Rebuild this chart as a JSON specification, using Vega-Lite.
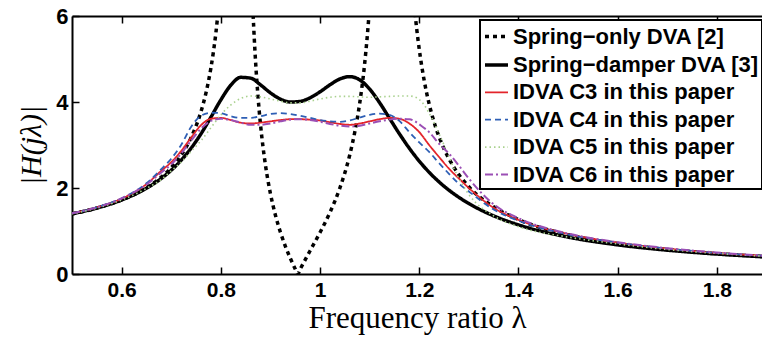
{
  "$schema": "https://vega.github.io/schema/vega-lite/v6.json",
  "width": 690,
  "height": 258,
  "autosize": {"type": "none"},
  "padding": {"left": 72, "top": 16, "right": 0, "bottom": 63},
  "background": "white",
  "config": {"view": {"stroke": null}},
  "data": {"values": [
    {"s":"Spring−only DVA [2]","x":0.5,"y":1.397},{"s":"Spring−only DVA [2]","x":0.55,"y":1.533},{"s":"Spring−only DVA [2]","x":0.6,"y":1.722},{"s":"Spring−only DVA [2]","x":0.65,"y":2.005},{"s":"Spring−only DVA [2]","x":0.7,"y":2.475},{"s":"Spring−only DVA [2]","x":0.72,"y":2.766},{"s":"Spring−only DVA [2]","x":0.74,"y":3.171},{"s":"Spring−only DVA [2]","x":0.76,"y":3.776},{"s":"Spring−only DVA [2]","x":0.77,"y":4.208},{"s":"Spring−only DVA [2]","x":0.78,"y":4.789},{"s":"Spring−only DVA [2]","x":0.785,"y":5.16},{"s":"Spring−only DVA [2]","x":0.79,"y":5.6},{"s":"Spring−only DVA [2]","x":0.795,"y":6.17},{"s":"Spring−only DVA [2]","x":0.8,"y":6.9},{"s":"Spring−only DVA [2]","x":0.81,"y":9.09},{"s":"Spring−only DVA [2]","x":0.86,"y":7.6},{"s":"Spring−only DVA [2]","x":0.865,"y":6.07},{"s":"Spring−only DVA [2]","x":0.87,"y":4.95},{"s":"Spring−only DVA [2]","x":0.875,"y":4.124},{"s":"Spring−only DVA [2]","x":0.88,"y":3.476},{"s":"Spring−only DVA [2]","x":0.885,"y":2.96},{"s":"Spring−only DVA [2]","x":0.89,"y":2.534},{"s":"Spring−only DVA [2]","x":0.9,"y":1.872},{"s":"Spring−only DVA [2]","x":0.91,"y":1.373},{"s":"Spring−only DVA [2]","x":0.92,"y":0.978},{"s":"Spring−only DVA [2]","x":0.93,"y":0.65},{"s":"Spring−only DVA [2]","x":0.94,"y":0.368},{"s":"Spring−only DVA [2]","x":0.95,"y":0.117},{"s":"Spring−only DVA [2]","x":0.955,"y":0},{"s":"Spring−only DVA [2]","x":0.96,"y":0.113},{"s":"Spring−only DVA [2]","x":0.98,"y":0.541},{"s":"Spring−only DVA [2]","x":1.0,"y":0.965},{"s":"Spring−only DVA [2]","x":1.02,"y":1.431},{"s":"Spring−only DVA [2]","x":1.04,"y":2.0},{"s":"Spring−only DVA [2]","x":1.06,"y":2.773},{"s":"Spring−only DVA [2]","x":1.07,"y":3.296},{"s":"Spring−only DVA [2]","x":1.08,"y":3.972},{"s":"Spring−only DVA [2]","x":1.09,"y":4.894},{"s":"Spring−only DVA [2]","x":1.1,"y":6.24},{"s":"Spring−only DVA [2]","x":1.105,"y":7.17},{"s":"Spring−only DVA [2]","x":1.11,"y":8.41},{"s":"Spring−only DVA [2]","x":1.18,"y":7.81},{"s":"Spring−only DVA [2]","x":1.185,"y":6.94},{"s":"Spring−only DVA [2]","x":1.19,"y":6.25},{"s":"Spring−only DVA [2]","x":1.195,"y":5.69},{"s":"Spring−only DVA [2]","x":1.2,"y":5.23},{"s":"Spring−only DVA [2]","x":1.21,"y":4.5},{"s":"Spring−only DVA [2]","x":1.22,"y":3.953},{"s":"Spring−only DVA [2]","x":1.23,"y":3.53},{"s":"Spring−only DVA [2]","x":1.25,"y":2.91},{"s":"Spring−only DVA [2]","x":1.27,"y":2.481},{"s":"Spring−only DVA [2]","x":1.3,"y":2.03},{"s":"Spring−only DVA [2]","x":1.35,"y":1.563},{"s":"Spring−only DVA [2]","x":1.4,"y":1.267},{"s":"Spring−only DVA [2]","x":1.5,"y":0.912},{"s":"Spring−only DVA [2]","x":1.6,"y":0.705},{"s":"Spring−only DVA [2]","x":1.7,"y":0.569},{"s":"Spring−only DVA [2]","x":1.8,"y":0.473},{"s":"Spring−only DVA [2]","x":1.9,"y":0.402},

    {"s":"Spring−damper DVA [3]","x":0.5,"y":1.399},{"s":"Spring−damper DVA [3]","x":0.55,"y":1.534},{"s":"Spring−damper DVA [3]","x":0.6,"y":1.722},{"s":"Spring−damper DVA [3]","x":0.65,"y":1.994},{"s":"Spring−damper DVA [3]","x":0.68,"y":2.222},{"s":"Spring−damper DVA [3]","x":0.7,"y":2.413},{"s":"Spring−damper DVA [3]","x":0.72,"y":2.644},{"s":"Spring−damper DVA [3]","x":0.74,"y":2.925},{"s":"Spring−damper DVA [3]","x":0.76,"y":3.26},{"s":"Spring−damper DVA [3]","x":0.78,"y":3.647},{"s":"Spring−damper DVA [3]","x":0.8,"y":4.048},{"s":"Spring−damper DVA [3]","x":0.82,"y":4.389},{"s":"Spring−damper DVA [3]","x":0.84,"y":4.573},{"s":"Spring−damper DVA [3]","x":0.86,"y":4.555},{"s":"Spring−damper DVA [3]","x":0.88,"y":4.399},{"s":"Spring−damper DVA [3]","x":0.9,"y":4.213},{"s":"Spring−damper DVA [3]","x":0.92,"y":4.068},{"s":"Spring−damper DVA [3]","x":0.94,"y":4.0},{"s":"Spring−damper DVA [3]","x":0.96,"y":4.014},{"s":"Spring−damper DVA [3]","x":0.98,"y":4.098},{"s":"Spring−damper DVA [3]","x":1.0,"y":4.237},{"s":"Spring−damper DVA [3]","x":1.02,"y":4.399},{"s":"Spring−damper DVA [3]","x":1.04,"y":4.536},{"s":"Spring−damper DVA [3]","x":1.06,"y":4.59},{"s":"Spring−damper DVA [3]","x":1.08,"y":4.515},{"s":"Spring−damper DVA [3]","x":1.1,"y":4.3},{"s":"Spring−damper DVA [3]","x":1.12,"y":3.986},{"s":"Spring−damper DVA [3]","x":1.14,"y":3.623},{"s":"Spring−damper DVA [3]","x":1.16,"y":3.261},{"s":"Spring−damper DVA [3]","x":1.18,"y":2.925},{"s":"Spring−damper DVA [3]","x":1.2,"y":2.626},{"s":"Spring−damper DVA [3]","x":1.22,"y":2.366},{"s":"Spring−damper DVA [3]","x":1.24,"y":2.142},{"s":"Spring−damper DVA [3]","x":1.26,"y":1.949},{"s":"Spring−damper DVA [3]","x":1.28,"y":1.783},{"s":"Spring−damper DVA [3]","x":1.3,"y":1.639},{"s":"Spring−damper DVA [3]","x":1.35,"y":1.353},{"s":"Spring−damper DVA [3]","x":1.4,"y":1.143},{"s":"Spring−damper DVA [3]","x":1.5,"y":0.859},{"s":"Spring−damper DVA [3]","x":1.6,"y":0.678},{"s":"Spring−damper DVA [3]","x":1.7,"y":0.554},{"s":"Spring−damper DVA [3]","x":1.8,"y":0.464},{"s":"Spring−damper DVA [3]","x":1.9,"y":0.396},

    {"s":"IDVA C3 in this paper","x":0.5,"y":1.41},{"s":"IDVA C3 in this paper","x":0.55,"y":1.55},{"s":"IDVA C3 in this paper","x":0.6,"y":1.75},{"s":"IDVA C3 in this paper","x":0.65,"y":2.09},{"s":"IDVA C3 in this paper","x":0.68,"y":2.4},{"s":"IDVA C3 in this paper","x":0.7,"y":2.6},{"s":"IDVA C3 in this paper","x":0.72,"y":2.86},{"s":"IDVA C3 in this paper","x":0.74,"y":3.17},{"s":"IDVA C3 in this paper","x":0.76,"y":3.46},{"s":"IDVA C3 in this paper","x":0.78,"y":3.61},{"s":"IDVA C3 in this paper","x":0.8,"y":3.63},{"s":"IDVA C3 in this paper","x":0.82,"y":3.58},{"s":"IDVA C3 in this paper","x":0.84,"y":3.52},{"s":"IDVA C3 in this paper","x":0.86,"y":3.5},{"s":"IDVA C3 in this paper","x":0.88,"y":3.52},{"s":"IDVA C3 in this paper","x":0.9,"y":3.55},{"s":"IDVA C3 in this paper","x":0.92,"y":3.58},{"s":"IDVA C3 in this paper","x":0.94,"y":3.6},{"s":"IDVA C3 in this paper","x":0.96,"y":3.6},{"s":"IDVA C3 in this paper","x":0.98,"y":3.59},{"s":"IDVA C3 in this paper","x":1.0,"y":3.57},{"s":"IDVA C3 in this paper","x":1.02,"y":3.53},{"s":"IDVA C3 in this paper","x":1.04,"y":3.49},{"s":"IDVA C3 in this paper","x":1.06,"y":3.47},{"s":"IDVA C3 in this paper","x":1.08,"y":3.5},{"s":"IDVA C3 in this paper","x":1.1,"y":3.55},{"s":"IDVA C3 in this paper","x":1.12,"y":3.6},{"s":"IDVA C3 in this paper","x":1.14,"y":3.63},{"s":"IDVA C3 in this paper","x":1.16,"y":3.61},{"s":"IDVA C3 in this paper","x":1.18,"y":3.5},{"s":"IDVA C3 in this paper","x":1.2,"y":3.3},{"s":"IDVA C3 in this paper","x":1.22,"y":3.0},{"s":"IDVA C3 in this paper","x":1.24,"y":2.72},{"s":"IDVA C3 in this paper","x":1.26,"y":2.45},{"s":"IDVA C3 in this paper","x":1.28,"y":2.22},{"s":"IDVA C3 in this paper","x":1.3,"y":2.0},{"s":"IDVA C3 in this paper","x":1.35,"y":1.54},{"s":"IDVA C3 in this paper","x":1.4,"y":1.26},{"s":"IDVA C3 in this paper","x":1.5,"y":0.93},{"s":"IDVA C3 in this paper","x":1.6,"y":0.73},{"s":"IDVA C3 in this paper","x":1.7,"y":0.59},{"s":"IDVA C3 in this paper","x":1.8,"y":0.49},{"s":"IDVA C3 in this paper","x":1.9,"y":0.42},

    {"s":"IDVA C4 in this paper","x":0.5,"y":1.41},{"s":"IDVA C4 in this paper","x":0.55,"y":1.55},{"s":"IDVA C4 in this paper","x":0.6,"y":1.76},{"s":"IDVA C4 in this paper","x":0.65,"y":2.11},{"s":"IDVA C4 in this paper","x":0.68,"y":2.44},{"s":"IDVA C4 in this paper","x":0.7,"y":2.68},{"s":"IDVA C4 in this paper","x":0.72,"y":3.0},{"s":"IDVA C4 in this paper","x":0.74,"y":3.42},{"s":"IDVA C4 in this paper","x":0.76,"y":3.68},{"s":"IDVA C4 in this paper","x":0.78,"y":3.75},{"s":"IDVA C4 in this paper","x":0.8,"y":3.74},{"s":"IDVA C4 in this paper","x":0.82,"y":3.67},{"s":"IDVA C4 in this paper","x":0.84,"y":3.63},{"s":"IDVA C4 in this paper","x":0.86,"y":3.63},{"s":"IDVA C4 in this paper","x":0.88,"y":3.67},{"s":"IDVA C4 in this paper","x":0.9,"y":3.72},{"s":"IDVA C4 in this paper","x":0.92,"y":3.74},{"s":"IDVA C4 in this paper","x":0.94,"y":3.72},{"s":"IDVA C4 in this paper","x":0.96,"y":3.68},{"s":"IDVA C4 in this paper","x":0.98,"y":3.63},{"s":"IDVA C4 in this paper","x":1.0,"y":3.58},{"s":"IDVA C4 in this paper","x":1.02,"y":3.55},{"s":"IDVA C4 in this paper","x":1.04,"y":3.54},{"s":"IDVA C4 in this paper","x":1.06,"y":3.57},{"s":"IDVA C4 in this paper","x":1.08,"y":3.64},{"s":"IDVA C4 in this paper","x":1.1,"y":3.7},{"s":"IDVA C4 in this paper","x":1.12,"y":3.73},{"s":"IDVA C4 in this paper","x":1.14,"y":3.7},{"s":"IDVA C4 in this paper","x":1.16,"y":3.56},{"s":"IDVA C4 in this paper","x":1.18,"y":3.3},{"s":"IDVA C4 in this paper","x":1.2,"y":3.06},{"s":"IDVA C4 in this paper","x":1.22,"y":2.84},{"s":"IDVA C4 in this paper","x":1.24,"y":2.58},{"s":"IDVA C4 in this paper","x":1.26,"y":2.33},{"s":"IDVA C4 in this paper","x":1.28,"y":2.1},{"s":"IDVA C4 in this paper","x":1.3,"y":1.92},{"s":"IDVA C4 in this paper","x":1.35,"y":1.5},{"s":"IDVA C4 in this paper","x":1.4,"y":1.24},{"s":"IDVA C4 in this paper","x":1.5,"y":0.92},{"s":"IDVA C4 in this paper","x":1.6,"y":0.73},{"s":"IDVA C4 in this paper","x":1.7,"y":0.59},{"s":"IDVA C4 in this paper","x":1.8,"y":0.49},{"s":"IDVA C4 in this paper","x":1.9,"y":0.42},

    {"s":"IDVA C5 in this paper","x":0.5,"y":1.4},{"s":"IDVA C5 in this paper","x":0.55,"y":1.53},{"s":"IDVA C5 in this paper","x":0.6,"y":1.72},{"s":"IDVA C5 in this paper","x":0.65,"y":1.99},{"s":"IDVA C5 in this paper","x":0.68,"y":2.2},{"s":"IDVA C5 in this paper","x":0.7,"y":2.4},{"s":"IDVA C5 in this paper","x":0.72,"y":2.6},{"s":"IDVA C5 in this paper","x":0.74,"y":2.85},{"s":"IDVA C5 in this paper","x":0.76,"y":3.1},{"s":"IDVA C5 in this paper","x":0.78,"y":3.4},{"s":"IDVA C5 in this paper","x":0.8,"y":3.7},{"s":"IDVA C5 in this paper","x":0.82,"y":3.93},{"s":"IDVA C5 in this paper","x":0.84,"y":4.08},{"s":"IDVA C5 in this paper","x":0.86,"y":4.14},{"s":"IDVA C5 in this paper","x":0.88,"y":4.12},{"s":"IDVA C5 in this paper","x":0.9,"y":4.07},{"s":"IDVA C5 in this paper","x":0.92,"y":4.02},{"s":"IDVA C5 in this paper","x":0.94,"y":3.98},{"s":"IDVA C5 in this paper","x":0.96,"y":3.98},{"s":"IDVA C5 in this paper","x":0.98,"y":4.02},{"s":"IDVA C5 in this paper","x":1.0,"y":4.07},{"s":"IDVA C5 in this paper","x":1.02,"y":4.11},{"s":"IDVA C5 in this paper","x":1.04,"y":4.13},{"s":"IDVA C5 in this paper","x":1.06,"y":4.13},{"s":"IDVA C5 in this paper","x":1.08,"y":4.12},{"s":"IDVA C5 in this paper","x":1.1,"y":4.11},{"s":"IDVA C5 in this paper","x":1.12,"y":4.12},{"s":"IDVA C5 in this paper","x":1.14,"y":4.13},{"s":"IDVA C5 in this paper","x":1.16,"y":4.14},{"s":"IDVA C5 in this paper","x":1.18,"y":4.14},{"s":"IDVA C5 in this paper","x":1.19,"y":4.12},{"s":"IDVA C5 in this paper","x":1.2,"y":4.06},{"s":"IDVA C5 in this paper","x":1.21,"y":3.93},{"s":"IDVA C5 in this paper","x":1.22,"y":3.74},{"s":"IDVA C5 in this paper","x":1.23,"y":3.52},{"s":"IDVA C5 in this paper","x":1.24,"y":3.26},{"s":"IDVA C5 in this paper","x":1.25,"y":3.0},{"s":"IDVA C5 in this paper","x":1.26,"y":2.72},{"s":"IDVA C5 in this paper","x":1.28,"y":2.22},{"s":"IDVA C5 in this paper","x":1.3,"y":1.85},{"s":"IDVA C5 in this paper","x":1.35,"y":1.35},{"s":"IDVA C5 in this paper","x":1.4,"y":1.1},{"s":"IDVA C5 in this paper","x":1.5,"y":0.86},{"s":"IDVA C5 in this paper","x":1.6,"y":0.7},{"s":"IDVA C5 in this paper","x":1.7,"y":0.57},{"s":"IDVA C5 in this paper","x":1.8,"y":0.48},{"s":"IDVA C5 in this paper","x":1.9,"y":0.41},

    {"s":"IDVA C6 in this paper","x":0.5,"y":1.41},{"s":"IDVA C6 in this paper","x":0.55,"y":1.55},{"s":"IDVA C6 in this paper","x":0.6,"y":1.76},{"s":"IDVA C6 in this paper","x":0.65,"y":2.08},{"s":"IDVA C6 in this paper","x":0.68,"y":2.36},{"s":"IDVA C6 in this paper","x":0.7,"y":2.55},{"s":"IDVA C6 in this paper","x":0.72,"y":2.8},{"s":"IDVA C6 in this paper","x":0.74,"y":3.1},{"s":"IDVA C6 in this paper","x":0.76,"y":3.38},{"s":"IDVA C6 in this paper","x":0.78,"y":3.56},{"s":"IDVA C6 in this paper","x":0.8,"y":3.61},{"s":"IDVA C6 in this paper","x":0.82,"y":3.58},{"s":"IDVA C6 in this paper","x":0.84,"y":3.52},{"s":"IDVA C6 in this paper","x":0.86,"y":3.47},{"s":"IDVA C6 in this paper","x":0.88,"y":3.47},{"s":"IDVA C6 in this paper","x":0.9,"y":3.5},{"s":"IDVA C6 in this paper","x":0.92,"y":3.55},{"s":"IDVA C6 in this paper","x":0.94,"y":3.59},{"s":"IDVA C6 in this paper","x":0.96,"y":3.6},{"s":"IDVA C6 in this paper","x":0.98,"y":3.58},{"s":"IDVA C6 in this paper","x":1.0,"y":3.54},{"s":"IDVA C6 in this paper","x":1.02,"y":3.49},{"s":"IDVA C6 in this paper","x":1.04,"y":3.45},{"s":"IDVA C6 in this paper","x":1.06,"y":3.43},{"s":"IDVA C6 in this paper","x":1.08,"y":3.45},{"s":"IDVA C6 in this paper","x":1.1,"y":3.5},{"s":"IDVA C6 in this paper","x":1.12,"y":3.55},{"s":"IDVA C6 in this paper","x":1.14,"y":3.59},{"s":"IDVA C6 in this paper","x":1.16,"y":3.61},{"s":"IDVA C6 in this paper","x":1.18,"y":3.6},{"s":"IDVA C6 in this paper","x":1.19,"y":3.56},{"s":"IDVA C6 in this paper","x":1.2,"y":3.48},{"s":"IDVA C6 in this paper","x":1.22,"y":3.3},{"s":"IDVA C6 in this paper","x":1.24,"y":3.03},{"s":"IDVA C6 in this paper","x":1.26,"y":2.8},{"s":"IDVA C6 in this paper","x":1.28,"y":2.52},{"s":"IDVA C6 in this paper","x":1.3,"y":2.22},{"s":"IDVA C6 in this paper","x":1.35,"y":1.62},{"s":"IDVA C6 in this paper","x":1.4,"y":1.3},{"s":"IDVA C6 in this paper","x":1.5,"y":0.94},{"s":"IDVA C6 in this paper","x":1.6,"y":0.74},{"s":"IDVA C6 in this paper","x":1.7,"y":0.6},{"s":"IDVA C6 in this paper","x":1.8,"y":0.5},{"s":"IDVA C6 in this paper","x":1.9,"y":0.42}
  ]},
  "layer": [
    {
      "mark": {"type": "line", "interpolate": "monotone", "clip": true},
      "encoding": {
        "x": {"field": "x", "type": "quantitative",
          "scale": {"domain": [0.5, 1.891], "nice": false, "zero": false},
          "axis": {"orient": "bottom", "values": [0.6, 0.8, 1, 1.2, 1.4, 1.6, 1.8], "format": "~g", "grid": false,
            "labelFont": "Liberation Sans", "labelFontSize": 21, "labelFontWeight": "bold", "labelColor": "black",
            "labelBaseline": "alphabetic", "labelPadding": 29, "tickSize": -7, "tickColor": "black", "tickWidth": 1.5,
            "domainColor": "black", "domainWidth": 2,
            "title": "Frequency ratio λ", "titleFont": "Liberation Serif", "titleFontSize": 31, "titleFontWeight": "normal",
            "titleColor": "black", "titleX": 345, "titleY": 53, "titleAlign": "center", "titleBaseline": "alphabetic"}},
        "y": {"field": "y", "type": "quantitative",
          "scale": {"domain": [0, 6], "nice": false},
          "axis": {"values": [0, 2, 4, 6], "grid": false,
            "labelFont": "Liberation Sans", "labelFontSize": 22, "labelFontWeight": "bold", "labelColor": "black",
            "labelPadding": 11, "tickSize": -7, "tickColor": "black", "tickWidth": 1.5,
            "domainColor": "black", "domainWidth": 2,
            "title": "|H(jλ)|", "titleFont": "Liberation Serif", "titleFontSize": 30, "titleFontStyle": "italic", "titleFontWeight": "normal",
            "titleColor": "black", "titleX": -41, "titleY": 129, "titleAngle": -90, "titleAlign": "center", "titleBaseline": "middle"}},
        "color": {"field": "s", "type": "nominal",
          "scale": {"domain": ["Spring−only DVA [2]", "Spring−damper DVA [3]", "IDVA C3 in this paper", "IDVA C4 in this paper", "IDVA C5 in this paper", "IDVA C6 in this paper"],
                    "range": ["#000000", "#000000", "#e3242b", "#2e5fb5", "#a9d18e", "#9b4fb5"]},
          "legend": {"orient": "none", "legendX": 408, "legendY": 4, "title": null, "padding": 3,
            "strokeColor": "black", "fillColor": "white", "symbolType": "stroke", "symbolSize": 529,
            "labelFont": "Liberation Sans", "labelFontSize": 22, "labelFontWeight": "bold", "labelColor": "black",
            "labelLimit": 600, "labelOffset": 3, "rowPadding": 3.4,
            "encode": {"legend": {"update": {"strokeWidth": {"value": 2}}}}}},
        "strokeDash": {"field": "s", "type": "nominal",
          "scale": {"domain": ["Spring−only DVA [2]", "Spring−damper DVA [3]", "IDVA C3 in this paper", "IDVA C4 in this paper", "IDVA C5 in this paper", "IDVA C6 in this paper"],
                    "range": [[4, 4], [1, 0], [1, 0], [6, 4], [1.5, 3], [8, 3, 2, 3]]}},
        "strokeWidth": {"field": "s", "type": "nominal",
          "scale": {"type": "ordinal", "domain": ["Spring−only DVA [2]", "Spring−damper DVA [3]", "IDVA C3 in this paper", "IDVA C4 in this paper", "IDVA C5 in this paper", "IDVA C6 in this paper"],
                    "range": [3.5, 3.5, 1.8, 1.8, 1.6, 2]}}
      }
    },
    {
      "mark": {"type": "point", "opacity": 0},
      "encoding": {
        "x": {"field": "x", "type": "quantitative",
          "axis": {"orient": "top", "values": [0.6, 0.8, 1, 1.2, 1.4, 1.6, 1.8], "labels": false, "grid": false, "title": null,
            "tickSize": -7, "tickColor": "black", "tickWidth": 1.5, "domainColor": "black", "domainWidth": 2}}
      }
    }
  ],
  "resolve": {"axis": {"x": "independent"}}
}
